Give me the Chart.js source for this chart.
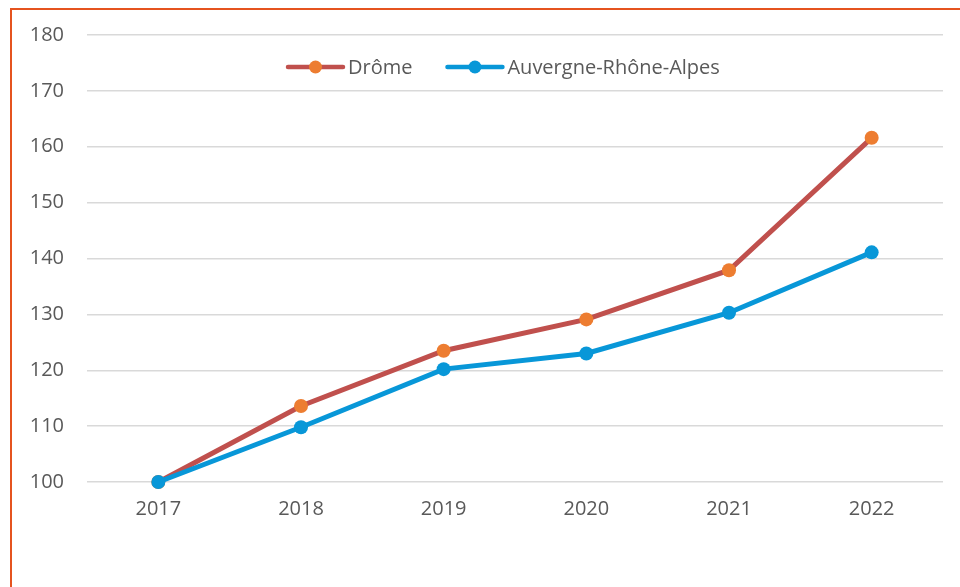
<!DOCTYPE html>
<html>
<head>
<meta charset="utf-8">
<script src="https://cdn.jsdelivr.net/npm/chart.js@4"></script>
<style>
  html, body { margin: 0; padding: 0; background: #fff; overflow: hidden; }
  #wrap { position: relative; width: 960px; height: 587px; overflow: hidden; }
  #frame { position: absolute; left: 10px; top: 8px; width: 1000px; height: 700px; border-left: 2px solid #E5531F; border-top: 2px solid #E5531F; box-sizing: border-box; }
  canvas { position: absolute; left: 0; top: 0; }
</style>
</head>
<body>
<div id="wrap">
  <div id="frame"></div>
  <canvas id="c" width="960" height="587"></canvas>
</div>
<script>
const years = ['2017', '2018', '2019', '2020', '2021', '2022'];
const drome = [100, 113.6, 123.5, 129.1, 137.9, 161.6];
const ara = [100, 109.8, 120.2, 123.0, 130.3, 141.1];
const seriesNames = ['Drôme', 'Auvergne-Rhône-Alpes'];
const yTicks = [100, 110, 120, 130, 140, 150, 160, 170, 180];

const FONT = '"Open Sans", sans-serif';
const TEXT = '#595959';

const legendPlugin = {
  id: 'insideLegend',
  afterDraw(chart) {
    const ctx = chart.ctx;
    ctx.save();
    ctx.font = '20px ' + FONT;
    ctx.textBaseline = 'middle';
    const y = 67;
    const lineLen = 55, gapText = 5, gapItem = 35;
    const items = chart.data.datasets.map(d => ({ label: d.label, line: d.borderColor, pt: d.pointBackgroundColor }));
    let x = 288;
    items.forEach(it => {
      ctx.strokeStyle = it.line;
      ctx.lineWidth = 4.5;
      ctx.lineCap = 'round';
      ctx.beginPath(); ctx.moveTo(x, y); ctx.lineTo(x + lineLen, y); ctx.stroke();
      ctx.fillStyle = it.pt;
      ctx.beginPath(); ctx.arc(x + lineLen / 2, y, 6.5, 0, Math.PI * 2); ctx.fill();
      ctx.fillStyle = TEXT;
      ctx.fillText(it.label, x + lineLen + gapText, y + 1);
      x += lineLen + gapText + ctx.measureText(it.label).width + gapItem;
    });
    ctx.restore();
  }
};

new Chart(document.getElementById('c'), {
  type: 'line',
  data: {
    labels: years,
    datasets: [
      { label: seriesNames[0], data: drome, order: 1, clip: false, borderColor: '#C0504D', pointBackgroundColor: '#ED7D31', pointBorderColor: '#ED7D31', borderWidth: 5, pointRadius: 7, pointBorderWidth: 0, tension: 0 },
      { label: seriesNames[1], data: ara, order: 0, clip: false, borderColor: '#0897D8', pointBackgroundColor: '#0897D8', pointBorderColor: '#0897D8', borderWidth: 5, pointRadius: 7, pointBorderWidth: 0, tension: 0 }
    ]
  },
  options: {
    responsive: false,
    animation: false,
    devicePixelRatio: 1,
    layout: { padding: { top: 35, right: 17, bottom: 65, left: 0 } },
    plugins: { legend: { display: false }, tooltip: { enabled: false } },
    scales: {
      x: {
        offset: true,
        afterFit(s) { s.height = 40; },
        grid: { display: false, drawTicks: false },
        border: { display: false },
        ticks: { color: TEXT, font: { family: FONT, size: 20 }, padding: 15, maxRotation: 0 }
      },
      y: {
        min: 100, max: 180,
        afterBuildTicks(s) { s.ticks = yTicks.map(v => ({ value: v })); },
        afterFit(s) { s.width = 87; },
        grid: { color: '#D9D9D9', lineWidth: 1.5, drawTicks: false },
        border: { display: false },
        ticks: { color: TEXT, font: { family: FONT, size: 20 }, padding: 23 }
      }
    }
  },
  plugins: [legendPlugin]
});
</script>
</body>
</html>
